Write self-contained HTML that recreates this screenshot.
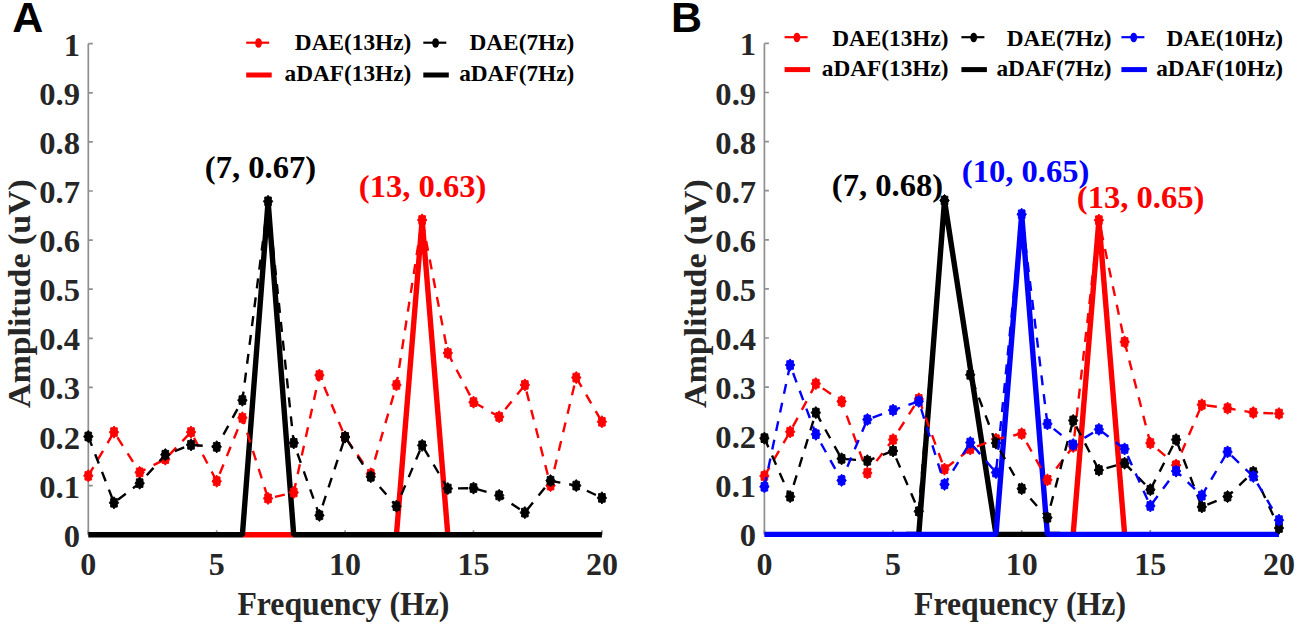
<!DOCTYPE html>
<html><head><meta charset="utf-8"><style>
html,body{margin:0;padding:0;background:#fff;width:1305px;height:629px;overflow:hidden}
svg{display:block}

</style></head><body><svg width="1305" height="629" viewBox="0 0 1305 629"><path d="M88.3 43.7V534.7" stroke="#8f8f8f" stroke-width="1.7" fill="none"/><path d="M88.3 534.7H601.9" stroke="#8f8f8f" stroke-width="1.7" fill="none"/><path d="M88.3 534.7H92.8M88.3 485.6H92.8M88.3 436.5H92.8M88.3 387.4H92.8M88.3 338.3H92.8M88.3 289.2H92.8M88.3 240.1H92.8M88.3 191.0H92.8M88.3 141.9H92.8M88.3 92.8H92.8M88.3 43.7H92.8M88.3 534.7V530.2M216.7 534.7V530.2M345.1 534.7V530.2M473.5 534.7V530.2M601.9 534.7V530.2" stroke="#8f8f8f" stroke-width="1.7" fill="none"/><text x="80.0" y="546.7" text-anchor="end" font-size="32.6" fill="#262626" font-family="Liberation Serif" font-weight="bold">0</text><text x="80.0" y="497.6" text-anchor="end" font-size="32.6" fill="#262626" font-family="Liberation Serif" font-weight="bold">0.1</text><text x="80.0" y="448.5" text-anchor="end" font-size="32.6" fill="#262626" font-family="Liberation Serif" font-weight="bold">0.2</text><text x="80.0" y="399.4" text-anchor="end" font-size="32.6" fill="#262626" font-family="Liberation Serif" font-weight="bold">0.3</text><text x="80.0" y="350.3" text-anchor="end" font-size="32.6" fill="#262626" font-family="Liberation Serif" font-weight="bold">0.4</text><text x="80.0" y="301.2" text-anchor="end" font-size="32.6" fill="#262626" font-family="Liberation Serif" font-weight="bold">0.5</text><text x="80.0" y="252.1" text-anchor="end" font-size="32.6" fill="#262626" font-family="Liberation Serif" font-weight="bold">0.6</text><text x="80.0" y="203.0" text-anchor="end" font-size="32.6" fill="#262626" font-family="Liberation Serif" font-weight="bold">0.7</text><text x="80.0" y="153.9" text-anchor="end" font-size="32.6" fill="#262626" font-family="Liberation Serif" font-weight="bold">0.8</text><text x="80.0" y="104.8" text-anchor="end" font-size="32.6" fill="#262626" font-family="Liberation Serif" font-weight="bold">0.9</text><text x="80.0" y="55.7" text-anchor="end" font-size="32.6" fill="#262626" font-family="Liberation Serif" font-weight="bold">1</text><text x="88.3" y="575.0" text-anchor="middle" font-size="32" fill="#262626" font-family="Liberation Serif" font-weight="bold">0</text><text x="216.7" y="575.0" text-anchor="middle" font-size="32" fill="#262626" font-family="Liberation Serif" font-weight="bold">5</text><text x="345.1" y="575.0" text-anchor="middle" font-size="32" fill="#262626" font-family="Liberation Serif" font-weight="bold">10</text><text x="473.5" y="575.0" text-anchor="middle" font-size="32" fill="#262626" font-family="Liberation Serif" font-weight="bold">15</text><text x="601.9" y="575.0" text-anchor="middle" font-size="32" fill="#262626" font-family="Liberation Serif" font-weight="bold">20</text><text x="343.4" y="614.8" text-anchor="middle" font-size="33" textLength="212" lengthAdjust="spacingAndGlyphs" fill="#262626" font-family="Liberation Serif" font-weight="bold">Frequency (Hz)</text><text transform="translate(29.8 293.6) rotate(-90)" text-anchor="middle" font-size="32.5" textLength="229" lengthAdjust="spacingAndGlyphs" fill="#262626" font-family="Liberation Serif" font-weight="bold">Amplitude (uV)</text><path d="M764.4 43.4V534.4" stroke="#8f8f8f" stroke-width="1.7" fill="none"/><path d="M764.4 534.4H1279.0" stroke="#8f8f8f" stroke-width="1.7" fill="none"/><path d="M764.4 534.4H768.9M764.4 485.3H768.9M764.4 436.2H768.9M764.4 387.1H768.9M764.4 338.0H768.9M764.4 288.9H768.9M764.4 239.8H768.9M764.4 190.7H768.9M764.4 141.6H768.9M764.4 92.5H768.9M764.4 43.4H768.9M764.4 534.4V529.9M893.0 534.4V529.9M1021.7 534.4V529.9M1150.3 534.4V529.9M1279.0 534.4V529.9" stroke="#8f8f8f" stroke-width="1.7" fill="none"/><text x="756.1" y="546.4" text-anchor="end" font-size="32.6" fill="#262626" font-family="Liberation Serif" font-weight="bold">0</text><text x="756.1" y="497.3" text-anchor="end" font-size="32.6" fill="#262626" font-family="Liberation Serif" font-weight="bold">0.1</text><text x="756.1" y="448.2" text-anchor="end" font-size="32.6" fill="#262626" font-family="Liberation Serif" font-weight="bold">0.2</text><text x="756.1" y="399.1" text-anchor="end" font-size="32.6" fill="#262626" font-family="Liberation Serif" font-weight="bold">0.3</text><text x="756.1" y="350.0" text-anchor="end" font-size="32.6" fill="#262626" font-family="Liberation Serif" font-weight="bold">0.4</text><text x="756.1" y="300.9" text-anchor="end" font-size="32.6" fill="#262626" font-family="Liberation Serif" font-weight="bold">0.5</text><text x="756.1" y="251.8" text-anchor="end" font-size="32.6" fill="#262626" font-family="Liberation Serif" font-weight="bold">0.6</text><text x="756.1" y="202.7" text-anchor="end" font-size="32.6" fill="#262626" font-family="Liberation Serif" font-weight="bold">0.7</text><text x="756.1" y="153.6" text-anchor="end" font-size="32.6" fill="#262626" font-family="Liberation Serif" font-weight="bold">0.8</text><text x="756.1" y="104.5" text-anchor="end" font-size="32.6" fill="#262626" font-family="Liberation Serif" font-weight="bold">0.9</text><text x="756.1" y="55.4" text-anchor="end" font-size="32.6" fill="#262626" font-family="Liberation Serif" font-weight="bold">1</text><text x="764.4" y="575.0" text-anchor="middle" font-size="32" fill="#262626" font-family="Liberation Serif" font-weight="bold">0</text><text x="893.0" y="575.0" text-anchor="middle" font-size="32" fill="#262626" font-family="Liberation Serif" font-weight="bold">5</text><text x="1021.7" y="575.0" text-anchor="middle" font-size="32" fill="#262626" font-family="Liberation Serif" font-weight="bold">10</text><text x="1150.3" y="575.0" text-anchor="middle" font-size="32" fill="#262626" font-family="Liberation Serif" font-weight="bold">15</text><text x="1279.0" y="575.0" text-anchor="middle" font-size="32" fill="#262626" font-family="Liberation Serif" font-weight="bold">20</text><text x="1020.0" y="614.8" text-anchor="middle" font-size="33" textLength="212" lengthAdjust="spacingAndGlyphs" fill="#262626" font-family="Liberation Serif" font-weight="bold">Frequency (Hz)</text><text transform="translate(705.9 293.6) rotate(-90)" text-anchor="middle" font-size="32.5" textLength="229" lengthAdjust="spacingAndGlyphs" fill="#262626" font-family="Liberation Serif" font-weight="bold">Amplitude (uV)</text><path d="M242.38 534.70 L293.74 534.70M396.46 534.70 L422.14 219.97 L447.82 534.70" fill="none" stroke="#ff0000" stroke-width="5.4" stroke-linejoin="miter" stroke-miterlimit="1"/><polyline points="88.3,534.7 242.4,534.7 268.1,201.3 293.7,534.7 601.9,534.7" fill="none" stroke="#000000" stroke-width="5.4" stroke-linejoin="miter" stroke-miterlimit="1"/><polyline points="88.3,475.8 114.0,432.1 139.7,472.3 165.3,459.1 191.0,432.1 216.7,481.2 242.4,417.8 268.1,498.4 293.7,492.5 319.4,375.1 345.1,437.0 370.8,473.8 396.5,384.9 422.1,220.0 447.8,353.0 473.5,402.1 499.2,416.9 524.9,384.9 550.5,485.6 576.2,377.6 601.9,421.8" fill="none" stroke="#ff0000" stroke-width="2.4" stroke-dasharray="10 9"/><g><polygon points="88.30,469.68 89.70,471.38 91.62,471.47 91.69,473.96 93.00,475.78 91.69,477.60 91.62,480.09 89.70,480.18 88.30,481.88 86.90,480.18 84.98,480.09 84.91,477.60 83.60,475.78 84.91,473.96 84.98,471.47 86.90,471.38" fill="#ff0000" stroke="#ff0000" stroke-width="0.9" stroke-linejoin="round"/><polygon points="113.98,425.98 115.38,427.69 117.30,427.77 117.37,430.26 118.68,432.08 117.37,433.90 117.30,436.39 115.38,436.48 113.98,438.18 112.58,436.48 110.66,436.39 110.59,433.90 109.28,432.08 110.59,430.26 110.66,427.77 112.58,427.69" fill="#ff0000" stroke="#ff0000" stroke-width="0.9" stroke-linejoin="round"/><polygon points="139.66,466.24 141.06,467.95 142.98,468.03 143.05,470.52 144.36,472.34 143.05,474.16 142.98,476.66 141.06,476.74 139.66,478.44 138.26,476.74 136.34,476.66 136.27,474.16 134.96,472.34 136.27,470.52 136.34,468.03 138.26,467.95" fill="#ff0000" stroke="#ff0000" stroke-width="0.9" stroke-linejoin="round"/><polygon points="165.34,452.99 166.74,454.69 168.66,454.77 168.73,457.27 170.04,459.09 168.73,460.91 168.66,463.40 166.74,463.48 165.34,465.19 163.94,463.48 162.02,463.40 161.95,460.91 160.64,459.09 161.95,457.27 162.02,454.77 163.94,454.69" fill="#ff0000" stroke="#ff0000" stroke-width="0.9" stroke-linejoin="round"/><polygon points="191.02,425.98 192.42,427.69 194.34,427.77 194.41,430.26 195.72,432.08 194.41,433.90 194.34,436.39 192.42,436.48 191.02,438.18 189.62,436.48 187.70,436.39 187.63,433.90 186.32,432.08 187.63,430.26 187.70,427.77 189.62,427.69" fill="#ff0000" stroke="#ff0000" stroke-width="0.9" stroke-linejoin="round"/><polygon points="216.70,475.08 218.10,476.79 220.02,476.87 220.09,479.36 221.40,481.18 220.09,483.00 220.02,485.49 218.10,485.58 216.70,487.28 215.30,485.58 213.38,485.49 213.31,483.00 212.00,481.18 213.31,479.36 213.38,476.87 215.30,476.79" fill="#ff0000" stroke="#ff0000" stroke-width="0.9" stroke-linejoin="round"/><polygon points="242.38,411.74 243.78,413.45 245.70,413.53 245.77,416.02 247.08,417.84 245.77,419.66 245.70,422.16 243.78,422.24 242.38,423.94 240.98,422.24 239.06,422.16 238.99,419.66 237.68,417.84 238.99,416.02 239.06,413.53 240.98,413.45" fill="#ff0000" stroke="#ff0000" stroke-width="0.9" stroke-linejoin="round"/><polygon points="268.06,492.27 269.46,493.97 271.38,494.05 271.45,496.55 272.76,498.37 271.45,500.19 271.38,502.68 269.46,502.76 268.06,504.47 266.66,502.76 264.74,502.68 264.67,500.19 263.36,498.37 264.67,496.55 264.74,494.05 266.66,493.97" fill="#ff0000" stroke="#ff0000" stroke-width="0.9" stroke-linejoin="round"/><polygon points="293.74,486.37 295.14,488.08 297.06,488.16 297.13,490.65 298.44,492.47 297.13,494.29 297.06,496.79 295.14,496.87 293.74,498.57 292.34,496.87 290.42,496.79 290.35,494.29 289.04,492.47 290.35,490.65 290.42,488.16 292.34,488.08" fill="#ff0000" stroke="#ff0000" stroke-width="0.9" stroke-linejoin="round"/><polygon points="319.42,369.02 320.82,370.73 322.74,370.81 322.81,373.30 324.12,375.12 322.81,376.95 322.74,379.44 320.82,379.52 319.42,381.23 318.02,379.52 316.10,379.44 316.03,376.95 314.72,375.12 316.03,373.30 316.10,370.81 318.02,370.73" fill="#ff0000" stroke="#ff0000" stroke-width="0.9" stroke-linejoin="round"/><polygon points="345.10,430.89 346.50,432.60 348.42,432.68 348.49,435.17 349.80,436.99 348.49,438.81 348.42,441.30 346.50,441.39 345.10,443.09 343.70,441.39 341.78,441.30 341.71,438.81 340.40,436.99 341.71,435.17 341.78,432.68 343.70,432.60" fill="#ff0000" stroke="#ff0000" stroke-width="0.9" stroke-linejoin="round"/><polygon points="370.78,467.72 372.18,469.42 374.10,469.50 374.17,472.00 375.48,473.82 374.17,475.64 374.10,478.13 372.18,478.21 370.78,479.92 369.38,478.21 367.46,478.13 367.39,475.64 366.08,473.82 367.39,472.00 367.46,469.50 369.38,469.42" fill="#ff0000" stroke="#ff0000" stroke-width="0.9" stroke-linejoin="round"/><polygon points="396.46,378.85 397.86,380.55 399.78,380.63 399.85,383.12 401.16,384.95 399.85,386.77 399.78,389.26 397.86,389.34 396.46,391.05 395.06,389.34 393.14,389.26 393.07,386.77 391.76,384.95 393.07,383.12 393.14,380.63 395.06,380.55" fill="#ff0000" stroke="#ff0000" stroke-width="0.9" stroke-linejoin="round"/><polygon points="422.14,213.87 423.54,215.57 425.46,215.66 425.53,218.15 426.84,219.97 425.53,221.79 425.46,224.28 423.54,224.36 422.14,226.07 420.74,224.36 418.82,224.28 418.75,221.79 417.44,219.97 418.75,218.15 418.82,215.66 420.74,215.57" fill="#ff0000" stroke="#ff0000" stroke-width="0.9" stroke-linejoin="round"/><polygon points="447.82,346.93 449.22,348.63 451.14,348.72 451.21,351.21 452.52,353.03 451.21,354.85 451.14,357.34 449.22,357.43 447.82,359.13 446.42,357.43 444.50,357.34 444.43,354.85 443.12,353.03 444.43,351.21 444.50,348.72 446.42,348.63" fill="#ff0000" stroke="#ff0000" stroke-width="0.9" stroke-linejoin="round"/><polygon points="473.50,396.03 474.90,397.73 476.82,397.82 476.89,400.31 478.20,402.13 476.89,403.95 476.82,406.44 474.90,406.53 473.50,408.23 472.10,406.53 470.18,406.44 470.11,403.95 468.80,402.13 470.11,400.31 470.18,397.82 472.10,397.73" fill="#ff0000" stroke="#ff0000" stroke-width="0.9" stroke-linejoin="round"/><polygon points="499.18,410.76 500.58,412.46 502.50,412.55 502.57,415.04 503.88,416.86 502.57,418.68 502.50,421.17 500.58,421.26 499.18,422.96 497.78,421.26 495.86,421.17 495.79,418.68 494.48,416.86 495.79,415.04 495.86,412.55 497.78,412.46" fill="#ff0000" stroke="#ff0000" stroke-width="0.9" stroke-linejoin="round"/><polygon points="524.86,378.85 526.26,380.55 528.18,380.63 528.25,383.12 529.56,384.95 528.25,386.77 528.18,389.26 526.26,389.34 524.86,391.05 523.46,389.34 521.54,389.26 521.47,386.77 520.16,384.95 521.47,383.12 521.54,380.63 523.46,380.55" fill="#ff0000" stroke="#ff0000" stroke-width="0.9" stroke-linejoin="round"/><polygon points="550.54,479.50 551.94,481.20 553.86,481.29 553.93,483.78 555.24,485.60 553.93,487.42 553.86,489.91 551.94,490.00 550.54,491.70 549.14,490.00 547.22,489.91 547.15,487.42 545.84,485.60 547.15,483.78 547.22,481.29 549.14,481.20" fill="#ff0000" stroke="#ff0000" stroke-width="0.9" stroke-linejoin="round"/><polygon points="576.22,371.48 577.62,373.18 579.54,373.27 579.61,375.76 580.92,377.58 579.61,379.40 579.54,381.89 577.62,381.98 576.22,383.68 574.82,381.98 572.90,381.89 572.83,379.40 571.52,377.58 572.83,375.76 572.90,373.27 574.82,373.18" fill="#ff0000" stroke="#ff0000" stroke-width="0.9" stroke-linejoin="round"/><polygon points="601.90,415.67 603.30,417.37 605.22,417.46 605.29,419.95 606.60,421.77 605.29,423.59 605.22,426.08 603.30,426.17 601.90,427.87 600.50,426.17 598.58,426.08 598.51,423.59 597.20,421.77 598.51,419.95 598.58,417.46 600.50,417.37" fill="#ff0000" stroke="#ff0000" stroke-width="0.9" stroke-linejoin="round"/></g><polyline points="88.3,436.5 114.0,502.8 139.7,483.1 165.3,454.7 191.0,444.8 216.7,446.8 242.4,400.2 268.1,201.3 293.7,442.9 319.4,515.3 345.1,437.0 370.8,476.8 396.5,506.2 422.1,445.3 447.8,488.5 473.5,488.1 499.2,495.4 524.9,512.6 550.5,480.7 576.2,485.6 601.9,497.9" fill="none" stroke="#000000" stroke-width="2.4" stroke-dasharray="10 9"/><g><polygon points="88.30,430.40 89.70,432.10 91.62,432.19 91.69,434.68 93.00,436.50 91.69,438.32 91.62,440.81 89.70,440.90 88.30,442.60 86.90,440.90 84.98,440.81 84.91,438.32 83.60,436.50 84.91,434.68 84.98,432.19 86.90,432.10" fill="#000000" stroke="#000000" stroke-width="0.9" stroke-linejoin="round"/><polygon points="113.98,496.69 115.38,498.39 117.30,498.47 117.37,500.96 118.68,502.79 117.37,504.61 117.30,507.10 115.38,507.18 113.98,508.89 112.58,507.18 110.66,507.10 110.59,504.61 109.28,502.79 110.59,500.96 110.66,498.47 112.58,498.39" fill="#000000" stroke="#000000" stroke-width="0.9" stroke-linejoin="round"/><polygon points="139.66,477.05 141.06,478.75 142.98,478.83 143.05,481.32 144.36,483.15 143.05,484.97 142.98,487.46 141.06,487.54 139.66,489.25 138.26,487.54 136.34,487.46 136.27,484.97 134.96,483.15 136.27,481.32 136.34,478.83 138.26,478.75" fill="#000000" stroke="#000000" stroke-width="0.9" stroke-linejoin="round"/><polygon points="165.34,448.57 166.74,450.27 168.66,450.35 168.73,452.85 170.04,454.67 168.73,456.49 168.66,458.98 166.74,459.06 165.34,460.77 163.94,459.06 162.02,458.98 161.95,456.49 160.64,454.67 161.95,452.85 162.02,450.35 163.94,450.27" fill="#000000" stroke="#000000" stroke-width="0.9" stroke-linejoin="round"/><polygon points="191.02,438.75 192.42,440.45 194.34,440.53 194.41,443.03 195.72,444.85 194.41,446.67 194.34,449.16 192.42,449.24 191.02,450.95 189.62,449.24 187.70,449.16 187.63,446.67 186.32,444.85 187.63,443.03 187.70,440.53 189.62,440.45" fill="#000000" stroke="#000000" stroke-width="0.9" stroke-linejoin="round"/><polygon points="216.70,440.71 218.10,442.42 220.02,442.50 220.09,444.99 221.40,446.81 220.09,448.63 220.02,451.12 218.10,451.21 216.70,452.91 215.30,451.21 213.38,451.12 213.31,448.63 212.00,446.81 213.31,444.99 213.38,442.50 215.30,442.42" fill="#000000" stroke="#000000" stroke-width="0.9" stroke-linejoin="round"/><polygon points="242.38,394.07 243.78,395.77 245.70,395.85 245.77,398.35 247.08,400.17 245.77,401.99 245.70,404.48 243.78,404.56 242.38,406.27 240.98,404.56 239.06,404.48 238.99,401.99 237.68,400.17 238.99,398.35 239.06,395.85 240.98,395.77" fill="#000000" stroke="#000000" stroke-width="0.9" stroke-linejoin="round"/><polygon points="268.06,195.21 269.46,196.92 271.38,197.00 271.45,199.49 272.76,201.31 271.45,203.13 271.38,205.62 269.46,205.71 268.06,207.41 266.66,205.71 264.74,205.62 264.67,203.13 263.36,201.31 264.67,199.49 264.74,197.00 266.66,196.92" fill="#000000" stroke="#000000" stroke-width="0.9" stroke-linejoin="round"/><polygon points="293.74,436.78 295.14,438.49 297.06,438.57 297.13,441.06 298.44,442.88 297.13,444.70 297.06,447.20 295.14,447.28 293.74,448.98 292.34,447.28 290.42,447.20 290.35,444.70 289.04,442.88 290.35,441.06 290.42,438.57 292.34,438.49" fill="#000000" stroke="#000000" stroke-width="0.9" stroke-linejoin="round"/><polygon points="319.42,509.21 320.82,510.91 322.74,510.99 322.81,513.48 324.12,515.31 322.81,517.13 322.74,519.62 320.82,519.70 319.42,521.41 318.02,519.70 316.10,519.62 316.03,517.13 314.72,515.31 316.03,513.48 316.10,510.99 318.02,510.91" fill="#000000" stroke="#000000" stroke-width="0.9" stroke-linejoin="round"/><polygon points="345.10,430.89 346.50,432.60 348.42,432.68 348.49,435.17 349.80,436.99 348.49,438.81 348.42,441.30 346.50,441.39 345.10,443.09 343.70,441.39 341.78,441.30 341.71,438.81 340.40,436.99 341.71,435.17 341.78,432.68 343.70,432.60" fill="#000000" stroke="#000000" stroke-width="0.9" stroke-linejoin="round"/><polygon points="370.78,470.66 372.18,472.37 374.10,472.45 374.17,474.94 375.48,476.76 374.17,478.58 374.10,481.08 372.18,481.16 370.78,482.86 369.38,481.16 367.46,481.08 367.39,478.58 366.08,476.76 367.39,474.94 367.46,472.45 369.38,472.37" fill="#000000" stroke="#000000" stroke-width="0.9" stroke-linejoin="round"/><polygon points="396.46,500.12 397.86,501.83 399.78,501.91 399.85,504.40 401.16,506.22 399.85,508.04 399.78,510.54 397.86,510.62 396.46,512.32 395.06,510.62 393.14,510.54 393.07,508.04 391.76,506.22 393.07,504.40 393.14,501.91 395.06,501.83" fill="#000000" stroke="#000000" stroke-width="0.9" stroke-linejoin="round"/><polygon points="422.14,439.24 423.54,440.94 425.46,441.02 425.53,443.52 426.84,445.34 425.53,447.16 425.46,449.65 423.54,449.73 422.14,451.44 420.74,449.73 418.82,449.65 418.75,447.16 417.44,445.34 418.75,443.52 418.82,441.02 420.74,440.94" fill="#000000" stroke="#000000" stroke-width="0.9" stroke-linejoin="round"/><polygon points="447.82,482.45 449.22,484.15 451.14,484.23 451.21,486.73 452.52,488.55 451.21,490.37 451.14,492.86 449.22,492.94 447.82,494.65 446.42,492.94 444.50,492.86 444.43,490.37 443.12,488.55 444.43,486.73 444.50,484.23 446.42,484.15" fill="#000000" stroke="#000000" stroke-width="0.9" stroke-linejoin="round"/><polygon points="473.50,481.96 474.90,483.66 476.82,483.74 476.89,486.23 478.20,488.06 476.89,489.88 476.82,492.37 474.90,492.45 473.50,494.16 472.10,492.45 470.18,492.37 470.11,489.88 468.80,488.06 470.11,486.23 470.18,483.74 472.10,483.66" fill="#000000" stroke="#000000" stroke-width="0.9" stroke-linejoin="round"/><polygon points="499.18,489.32 500.58,491.02 502.50,491.11 502.57,493.60 503.88,495.42 502.57,497.24 502.50,499.73 500.58,499.82 499.18,501.52 497.78,499.82 495.86,499.73 495.79,497.24 494.48,495.42 495.79,493.60 495.86,491.11 497.78,491.02" fill="#000000" stroke="#000000" stroke-width="0.9" stroke-linejoin="round"/><polygon points="524.86,506.50 526.26,508.21 528.18,508.29 528.25,510.78 529.56,512.61 528.25,514.43 528.18,516.92 526.26,517.00 524.86,518.71 523.46,517.00 521.54,516.92 521.47,514.43 520.16,512.61 521.47,510.78 521.54,508.29 523.46,508.21" fill="#000000" stroke="#000000" stroke-width="0.9" stroke-linejoin="round"/><polygon points="550.54,474.59 551.94,476.29 553.86,476.38 553.93,478.87 555.24,480.69 553.93,482.51 553.86,485.00 551.94,485.09 550.54,486.79 549.14,485.09 547.22,485.00 547.15,482.51 545.84,480.69 547.15,478.87 547.22,476.38 549.14,476.29" fill="#000000" stroke="#000000" stroke-width="0.9" stroke-linejoin="round"/><polygon points="576.22,479.50 577.62,481.20 579.54,481.29 579.61,483.78 580.92,485.60 579.61,487.42 579.54,489.91 577.62,490.00 576.22,491.70 574.82,490.00 572.90,489.91 572.83,487.42 571.52,485.60 572.83,483.78 572.90,481.29 574.82,481.20" fill="#000000" stroke="#000000" stroke-width="0.9" stroke-linejoin="round"/><polygon points="601.90,491.78 603.30,493.48 605.22,493.56 605.29,496.05 606.60,497.88 605.29,499.70 605.22,502.19 603.30,502.27 601.90,503.98 600.50,502.27 598.58,502.19 598.51,499.70 597.20,497.88 598.51,496.05 598.58,493.56 600.50,493.48" fill="#000000" stroke="#000000" stroke-width="0.9" stroke-linejoin="round"/></g><path d="M1073.16 534.40 L1098.89 220.16 L1124.62 534.40" fill="none" stroke="#ff0000" stroke-width="5.4" stroke-linejoin="miter" stroke-miterlimit="1"/><path d="M905.91 534.40 L918.78 534.40 L944.51 200.52 L995.97 534.40 L1060.30 534.40" fill="none" stroke="#000000" stroke-width="5.4" stroke-linejoin="miter" stroke-miterlimit="1"/><polyline points="764.4,534.4 996.0,534.4 1021.7,214.3 1047.4,534.4 1279.0,534.4" fill="none" stroke="#0000ff" stroke-width="5.4" stroke-linejoin="miter" stroke-miterlimit="1"/><polyline points="764.4,476.0 790.1,431.8 815.9,383.7 841.6,401.3 867.3,473.0 893.0,439.6 918.8,398.9 944.5,469.1 970.2,449.0 996.0,439.1 1021.7,433.7 1047.4,479.9 1073.2,446.5 1098.9,220.2 1124.6,341.9 1150.3,443.1 1176.1,465.2 1201.8,404.8 1227.5,408.2 1253.3,412.6 1279.0,413.6" fill="none" stroke="#ff0000" stroke-width="2.4" stroke-dasharray="10 9"/><g><polygon points="764.40,469.87 765.80,471.58 767.72,471.66 767.79,474.15 769.10,475.97 767.79,477.79 767.72,480.28 765.80,480.37 764.40,482.07 763.00,480.37 761.08,480.28 761.01,477.79 759.70,475.97 761.01,474.15 761.08,471.66 763.00,471.58" fill="#ff0000" stroke="#ff0000" stroke-width="0.9" stroke-linejoin="round"/><polygon points="790.13,425.68 791.53,427.39 793.45,427.47 793.52,429.96 794.83,431.78 793.52,433.60 793.45,436.09 791.53,436.18 790.13,437.88 788.73,436.18 786.81,436.09 786.74,433.60 785.43,431.78 786.74,429.96 786.81,427.47 788.73,427.39" fill="#ff0000" stroke="#ff0000" stroke-width="0.9" stroke-linejoin="round"/><polygon points="815.86,377.56 817.26,379.27 819.18,379.35 819.25,381.84 820.56,383.66 819.25,385.48 819.18,387.98 817.26,388.06 815.86,389.76 814.46,388.06 812.54,387.98 812.47,385.48 811.16,383.66 812.47,381.84 812.54,379.35 814.46,379.27" fill="#ff0000" stroke="#ff0000" stroke-width="0.9" stroke-linejoin="round"/><polygon points="841.59,395.24 842.99,396.94 844.91,397.03 844.98,399.52 846.29,401.34 844.98,403.16 844.91,405.65 842.99,405.73 841.59,407.44 840.19,405.73 838.27,405.65 838.20,403.16 836.89,401.34 838.20,399.52 838.27,397.03 840.19,396.94" fill="#ff0000" stroke="#ff0000" stroke-width="0.9" stroke-linejoin="round"/><polygon points="867.32,466.92 868.72,468.63 870.64,468.71 870.71,471.20 872.02,473.02 870.71,474.85 870.64,477.34 868.72,477.42 867.32,479.12 865.92,477.42 864.00,477.34 863.93,474.85 862.62,473.02 863.93,471.20 864.00,468.71 865.92,468.63" fill="#ff0000" stroke="#ff0000" stroke-width="0.9" stroke-linejoin="round"/><polygon points="893.05,433.54 894.45,435.24 896.37,435.32 896.44,437.82 897.75,439.64 896.44,441.46 896.37,443.95 894.45,444.03 893.05,445.74 891.65,444.03 889.73,443.95 889.66,441.46 888.35,439.64 889.66,437.82 889.73,435.32 891.65,435.24" fill="#ff0000" stroke="#ff0000" stroke-width="0.9" stroke-linejoin="round"/><polygon points="918.78,392.78 920.18,394.49 922.10,394.57 922.17,397.06 923.48,398.88 922.17,400.70 922.10,403.20 920.18,403.28 918.78,404.98 917.38,403.28 915.46,403.20 915.39,400.70 914.08,398.88 915.39,397.06 915.46,394.57 917.38,394.49" fill="#ff0000" stroke="#ff0000" stroke-width="0.9" stroke-linejoin="round"/><polygon points="944.51,463.00 945.91,464.70 947.83,464.78 947.90,467.28 949.21,469.10 947.90,470.92 947.83,473.41 945.91,473.49 944.51,475.20 943.11,473.49 941.19,473.41 941.12,470.92 939.81,469.10 941.12,467.28 941.19,464.78 943.11,464.70" fill="#ff0000" stroke="#ff0000" stroke-width="0.9" stroke-linejoin="round"/><polygon points="970.24,442.87 971.64,444.57 973.56,444.65 973.63,447.15 974.94,448.97 973.63,450.79 973.56,453.28 971.64,453.36 970.24,455.07 968.84,453.36 966.92,453.28 966.85,450.79 965.54,448.97 966.85,447.15 966.92,444.65 968.84,444.57" fill="#ff0000" stroke="#ff0000" stroke-width="0.9" stroke-linejoin="round"/><polygon points="995.97,433.05 997.37,434.75 999.29,434.83 999.36,437.33 1000.67,439.15 999.36,440.97 999.29,443.46 997.37,443.54 995.97,445.25 994.57,443.54 992.65,443.46 992.58,440.97 991.27,439.15 992.58,437.33 992.65,434.83 994.57,434.75" fill="#ff0000" stroke="#ff0000" stroke-width="0.9" stroke-linejoin="round"/><polygon points="1021.70,427.64 1023.10,429.35 1025.02,429.43 1025.09,431.92 1026.40,433.75 1025.09,435.57 1025.02,438.06 1023.10,438.14 1021.70,439.85 1020.30,438.14 1018.38,438.06 1018.31,435.57 1017.00,433.75 1018.31,431.92 1018.38,429.43 1020.30,429.35" fill="#ff0000" stroke="#ff0000" stroke-width="0.9" stroke-linejoin="round"/><polygon points="1047.43,473.80 1048.83,475.50 1050.75,475.59 1050.82,478.08 1052.13,479.90 1050.82,481.72 1050.75,484.21 1048.83,484.29 1047.43,486.00 1046.03,484.29 1044.11,484.21 1044.04,481.72 1042.73,479.90 1044.04,478.08 1044.11,475.59 1046.03,475.50" fill="#ff0000" stroke="#ff0000" stroke-width="0.9" stroke-linejoin="round"/><polygon points="1073.16,440.41 1074.56,442.12 1076.48,442.20 1076.55,444.69 1077.86,446.51 1076.55,448.33 1076.48,450.82 1074.56,450.91 1073.16,452.61 1071.76,450.91 1069.84,450.82 1069.77,448.33 1068.46,446.51 1069.77,444.69 1069.84,442.20 1071.76,442.12" fill="#ff0000" stroke="#ff0000" stroke-width="0.9" stroke-linejoin="round"/><polygon points="1098.89,214.06 1100.29,215.76 1102.21,215.85 1102.28,218.34 1103.59,220.16 1102.28,221.98 1102.21,224.47 1100.29,224.56 1098.89,226.26 1097.49,224.56 1095.57,224.47 1095.50,221.98 1094.19,220.16 1095.50,218.34 1095.57,215.85 1097.49,215.76" fill="#ff0000" stroke="#ff0000" stroke-width="0.9" stroke-linejoin="round"/><polygon points="1124.62,335.83 1126.02,337.53 1127.94,337.61 1128.01,340.11 1129.32,341.93 1128.01,343.75 1127.94,346.24 1126.02,346.32 1124.62,348.03 1123.22,346.32 1121.30,346.24 1121.23,343.75 1119.92,341.93 1121.23,340.11 1121.30,337.61 1123.22,337.53" fill="#ff0000" stroke="#ff0000" stroke-width="0.9" stroke-linejoin="round"/><polygon points="1150.35,436.97 1151.75,438.68 1153.67,438.76 1153.74,441.25 1155.05,443.07 1153.74,444.89 1153.67,447.39 1151.75,447.47 1150.35,449.17 1148.95,447.47 1147.03,447.39 1146.96,444.89 1145.65,443.07 1146.96,441.25 1147.03,438.76 1148.95,438.68" fill="#ff0000" stroke="#ff0000" stroke-width="0.9" stroke-linejoin="round"/><polygon points="1176.08,459.07 1177.48,460.77 1179.40,460.86 1179.47,463.35 1180.78,465.17 1179.47,466.99 1179.40,469.48 1177.48,469.56 1176.08,471.27 1174.68,469.56 1172.76,469.48 1172.69,466.99 1171.38,465.17 1172.69,463.35 1172.76,460.86 1174.68,460.77" fill="#ff0000" stroke="#ff0000" stroke-width="0.9" stroke-linejoin="round"/><polygon points="1201.81,398.68 1203.21,400.38 1205.13,400.46 1205.20,402.96 1206.51,404.78 1205.20,406.60 1205.13,409.09 1203.21,409.17 1201.81,410.88 1200.41,409.17 1198.49,409.09 1198.42,406.60 1197.11,404.78 1198.42,402.96 1198.49,400.46 1200.41,400.38" fill="#ff0000" stroke="#ff0000" stroke-width="0.9" stroke-linejoin="round"/><polygon points="1227.54,402.11 1228.94,403.82 1230.86,403.90 1230.93,406.39 1232.24,408.21 1230.93,410.03 1230.86,412.53 1228.94,412.61 1227.54,414.31 1226.14,412.61 1224.22,412.53 1224.15,410.03 1222.84,408.21 1224.15,406.39 1224.22,403.90 1226.14,403.82" fill="#ff0000" stroke="#ff0000" stroke-width="0.9" stroke-linejoin="round"/><polygon points="1253.27,406.53 1254.67,408.24 1256.59,408.32 1256.66,410.81 1257.97,412.63 1256.66,414.45 1256.59,416.95 1254.67,417.03 1253.27,418.73 1251.87,417.03 1249.95,416.95 1249.88,414.45 1248.57,412.63 1249.88,410.81 1249.95,408.32 1251.87,408.24" fill="#ff0000" stroke="#ff0000" stroke-width="0.9" stroke-linejoin="round"/><polygon points="1279.00,407.51 1280.40,409.22 1282.32,409.30 1282.39,411.79 1283.70,413.61 1282.39,415.43 1282.32,417.93 1280.40,418.01 1279.00,419.71 1277.60,418.01 1275.68,417.93 1275.61,415.43 1274.30,413.61 1275.61,411.79 1275.68,409.30 1277.60,409.22" fill="#ff0000" stroke="#ff0000" stroke-width="0.9" stroke-linejoin="round"/></g><polyline points="764.4,438.2 790.1,496.6 815.9,412.6 841.6,458.8 867.3,460.8 893.0,450.9 918.8,511.3 944.5,200.5 970.2,374.8 996.0,443.1 1021.7,488.7 1047.4,517.7 1073.2,420.5 1098.9,470.1 1124.6,463.2 1150.3,489.7 1176.1,439.6 1201.8,506.9 1227.5,496.6 1253.3,472.0 1279.0,528.0" fill="none" stroke="#000000" stroke-width="2.4" stroke-dasharray="10 9"/><g><polygon points="764.40,432.06 765.80,433.77 767.72,433.85 767.79,436.34 769.10,438.16 767.79,439.98 767.72,442.48 765.80,442.56 764.40,444.26 763.00,442.56 761.08,442.48 761.01,439.98 759.70,438.16 761.01,436.34 761.08,433.85 763.00,433.77" fill="#000000" stroke="#000000" stroke-width="0.9" stroke-linejoin="round"/><polygon points="790.13,490.49 791.53,492.20 793.45,492.28 793.52,494.77 794.83,496.59 793.52,498.41 793.45,500.91 791.53,500.99 790.13,502.69 788.73,500.99 786.81,500.91 786.74,498.41 785.43,496.59 786.74,494.77 786.81,492.28 788.73,492.20" fill="#000000" stroke="#000000" stroke-width="0.9" stroke-linejoin="round"/><polygon points="815.86,406.53 817.26,408.24 819.18,408.32 819.25,410.81 820.56,412.63 819.25,414.45 819.18,416.95 817.26,417.03 815.86,418.73 814.46,417.03 812.54,416.95 812.47,414.45 811.16,412.63 812.47,410.81 812.54,408.32 814.46,408.24" fill="#000000" stroke="#000000" stroke-width="0.9" stroke-linejoin="round"/><polygon points="841.59,452.69 842.99,454.39 844.91,454.47 844.98,456.97 846.29,458.79 844.98,460.61 844.91,463.10 842.99,463.18 841.59,464.89 840.19,463.18 838.27,463.10 838.20,460.61 836.89,458.79 838.20,456.97 838.27,454.47 840.19,454.39" fill="#000000" stroke="#000000" stroke-width="0.9" stroke-linejoin="round"/><polygon points="867.32,454.65 868.72,456.35 870.64,456.44 870.71,458.93 872.02,460.75 870.71,462.57 870.64,465.06 868.72,465.15 867.32,466.85 865.92,465.15 864.00,465.06 863.93,462.57 862.62,460.75 863.93,458.93 864.00,456.44 865.92,456.35" fill="#000000" stroke="#000000" stroke-width="0.9" stroke-linejoin="round"/><polygon points="893.05,444.83 894.45,446.53 896.37,446.62 896.44,449.11 897.75,450.93 896.44,452.75 896.37,455.24 894.45,455.33 893.05,457.03 891.65,455.33 889.73,455.24 889.66,452.75 888.35,450.93 889.66,449.11 889.73,446.62 891.65,446.53" fill="#000000" stroke="#000000" stroke-width="0.9" stroke-linejoin="round"/><polygon points="918.78,505.22 920.18,506.93 922.10,507.01 922.17,509.50 923.48,511.32 922.17,513.14 922.10,515.64 920.18,515.72 918.78,517.42 917.38,515.72 915.46,515.64 915.39,513.14 914.08,511.32 915.39,509.50 915.46,507.01 917.38,506.93" fill="#000000" stroke="#000000" stroke-width="0.9" stroke-linejoin="round"/><polygon points="944.51,194.42 945.91,196.12 947.83,196.21 947.90,198.70 949.21,200.52 947.90,202.34 947.83,204.83 945.91,204.92 944.51,206.62 943.11,204.92 941.19,204.83 941.12,202.34 939.81,200.52 941.12,198.70 941.19,196.21 943.11,196.12" fill="#000000" stroke="#000000" stroke-width="0.9" stroke-linejoin="round"/><polygon points="970.24,368.72 971.64,370.43 973.56,370.51 973.63,373.00 974.94,374.82 973.63,376.65 973.56,379.14 971.64,379.22 970.24,380.92 968.84,379.22 966.92,379.14 966.85,376.65 965.54,374.82 966.85,373.00 966.92,370.51 968.84,370.43" fill="#000000" stroke="#000000" stroke-width="0.9" stroke-linejoin="round"/><polygon points="995.97,436.97 997.37,438.68 999.29,438.76 999.36,441.25 1000.67,443.07 999.36,444.89 999.29,447.39 997.37,447.47 995.97,449.17 994.57,447.47 992.65,447.39 992.58,444.89 991.27,443.07 992.58,441.25 992.65,438.76 994.57,438.68" fill="#000000" stroke="#000000" stroke-width="0.9" stroke-linejoin="round"/><polygon points="1021.70,482.64 1023.10,484.34 1025.02,484.42 1025.09,486.92 1026.40,488.74 1025.09,490.56 1025.02,493.05 1023.10,493.13 1021.70,494.84 1020.30,493.13 1018.38,493.05 1018.31,490.56 1017.00,488.74 1018.31,486.92 1018.38,484.42 1020.30,484.34" fill="#000000" stroke="#000000" stroke-width="0.9" stroke-linejoin="round"/><polygon points="1047.43,511.61 1048.83,513.31 1050.75,513.39 1050.82,515.89 1052.13,517.71 1050.82,519.53 1050.75,522.02 1048.83,522.10 1047.43,523.81 1046.03,522.10 1044.11,522.02 1044.04,519.53 1042.73,517.71 1044.04,515.89 1044.11,513.39 1046.03,513.31" fill="#000000" stroke="#000000" stroke-width="0.9" stroke-linejoin="round"/><polygon points="1073.16,414.39 1074.56,416.09 1076.48,416.17 1076.55,418.67 1077.86,420.49 1076.55,422.31 1076.48,424.80 1074.56,424.88 1073.16,426.59 1071.76,424.88 1069.84,424.80 1069.77,422.31 1068.46,420.49 1069.77,418.67 1069.84,416.17 1071.76,416.09" fill="#000000" stroke="#000000" stroke-width="0.9" stroke-linejoin="round"/><polygon points="1098.89,463.98 1100.29,465.68 1102.21,465.77 1102.28,468.26 1103.59,470.08 1102.28,471.90 1102.21,474.39 1100.29,474.47 1098.89,476.18 1097.49,474.47 1095.57,474.39 1095.50,471.90 1094.19,470.08 1095.50,468.26 1095.57,465.77 1097.49,465.68" fill="#000000" stroke="#000000" stroke-width="0.9" stroke-linejoin="round"/><polygon points="1124.62,457.10 1126.02,458.81 1127.94,458.89 1128.01,461.38 1129.32,463.20 1128.01,465.03 1127.94,467.52 1126.02,467.60 1124.62,469.31 1123.22,467.60 1121.30,467.52 1121.23,465.03 1119.92,463.20 1121.23,461.38 1121.30,458.89 1123.22,458.81" fill="#000000" stroke="#000000" stroke-width="0.9" stroke-linejoin="round"/><polygon points="1150.35,483.62 1151.75,485.32 1153.67,485.41 1153.74,487.90 1155.05,489.72 1153.74,491.54 1153.67,494.03 1151.75,494.11 1150.35,495.82 1148.95,494.11 1147.03,494.03 1146.96,491.54 1145.65,489.72 1146.96,487.90 1147.03,485.41 1148.95,485.32" fill="#000000" stroke="#000000" stroke-width="0.9" stroke-linejoin="round"/><polygon points="1176.08,433.54 1177.48,435.24 1179.40,435.32 1179.47,437.82 1180.78,439.64 1179.47,441.46 1179.40,443.95 1177.48,444.03 1176.08,445.74 1174.68,444.03 1172.76,443.95 1172.69,441.46 1171.38,439.64 1172.69,437.82 1172.76,435.32 1174.68,435.24" fill="#000000" stroke="#000000" stroke-width="0.9" stroke-linejoin="round"/><polygon points="1201.81,500.80 1203.21,502.51 1205.13,502.59 1205.20,505.08 1206.51,506.90 1205.20,508.72 1205.13,511.22 1203.21,511.30 1201.81,513.00 1200.41,511.30 1198.49,511.22 1198.42,508.72 1197.11,506.90 1198.42,505.08 1198.49,502.59 1200.41,502.51" fill="#000000" stroke="#000000" stroke-width="0.9" stroke-linejoin="round"/><polygon points="1227.54,490.49 1228.94,492.20 1230.86,492.28 1230.93,494.77 1232.24,496.59 1230.93,498.41 1230.86,500.91 1228.94,500.99 1227.54,502.69 1226.14,500.99 1224.22,500.91 1224.15,498.41 1222.84,496.59 1224.15,494.77 1224.22,492.28 1226.14,492.20" fill="#000000" stroke="#000000" stroke-width="0.9" stroke-linejoin="round"/><polygon points="1253.27,465.94 1254.67,467.65 1256.59,467.73 1256.66,470.22 1257.97,472.04 1256.66,473.86 1256.59,476.36 1254.67,476.44 1253.27,478.14 1251.87,476.44 1249.95,476.36 1249.88,473.86 1248.57,472.04 1249.88,470.22 1249.95,467.73 1251.87,467.65" fill="#000000" stroke="#000000" stroke-width="0.9" stroke-linejoin="round"/><polygon points="1279.00,521.92 1280.40,523.62 1282.32,523.70 1282.39,526.20 1283.70,528.02 1282.39,529.84 1282.32,532.33 1280.40,532.41 1279.00,534.12 1277.60,532.41 1275.68,532.33 1275.61,529.84 1274.30,528.02 1275.61,526.20 1275.68,523.70 1277.60,523.62" fill="#000000" stroke="#000000" stroke-width="0.9" stroke-linejoin="round"/></g><polyline points="764.4,486.8 790.1,365.0 815.9,434.2 841.6,480.4 867.3,419.5 893.0,410.2 918.8,401.3 944.5,484.3 970.2,442.6 996.0,472.5 1021.7,214.3 1047.4,423.9 1073.2,444.5 1098.9,429.3 1124.6,449.0 1150.3,505.9 1176.1,471.1 1201.8,495.6 1227.5,451.9 1253.3,476.5 1279.0,520.2" fill="none" stroke="#0000ff" stroke-width="2.4" stroke-dasharray="10 9"/><g><polygon points="764.40,480.67 765.80,482.38 767.72,482.46 767.79,484.95 769.10,486.77 767.79,488.59 767.72,491.09 765.80,491.17 764.40,492.87 763.00,491.17 761.08,491.09 761.01,488.59 759.70,486.77 761.01,484.95 761.08,482.46 763.00,482.38" fill="#0000ff" stroke="#0000ff" stroke-width="0.9" stroke-linejoin="round"/><polygon points="790.13,358.90 791.53,360.61 793.45,360.69 793.52,363.18 794.83,365.00 793.52,366.83 793.45,369.32 791.53,369.40 790.13,371.11 788.73,369.40 786.81,369.32 786.74,366.83 785.43,365.00 786.74,363.18 786.81,360.69 788.73,360.61" fill="#0000ff" stroke="#0000ff" stroke-width="0.9" stroke-linejoin="round"/><polygon points="815.86,428.14 817.26,429.84 819.18,429.92 819.25,432.42 820.56,434.24 819.25,436.06 819.18,438.55 817.26,438.63 815.86,440.34 814.46,438.63 812.54,438.55 812.47,436.06 811.16,434.24 812.47,432.42 812.54,429.92 814.46,429.84" fill="#0000ff" stroke="#0000ff" stroke-width="0.9" stroke-linejoin="round"/><polygon points="841.59,474.29 842.99,475.99 844.91,476.08 844.98,478.57 846.29,480.39 844.98,482.21 844.91,484.70 842.99,484.79 841.59,486.49 840.19,484.79 838.27,484.70 838.20,482.21 836.89,480.39 838.20,478.57 838.27,476.08 840.19,475.99" fill="#0000ff" stroke="#0000ff" stroke-width="0.9" stroke-linejoin="round"/><polygon points="867.32,413.41 868.72,415.11 870.64,415.19 870.71,417.69 872.02,419.51 870.71,421.33 870.64,423.82 868.72,423.90 867.32,425.61 865.92,423.90 864.00,423.82 863.93,421.33 862.62,419.51 863.93,417.69 864.00,415.19 865.92,415.11" fill="#0000ff" stroke="#0000ff" stroke-width="0.9" stroke-linejoin="round"/><polygon points="893.05,404.08 894.45,405.78 896.37,405.86 896.44,408.36 897.75,410.18 896.44,412.00 896.37,414.49 894.45,414.57 893.05,416.28 891.65,414.57 889.73,414.49 889.66,412.00 888.35,410.18 889.66,408.36 889.73,405.86 891.65,405.78" fill="#0000ff" stroke="#0000ff" stroke-width="0.9" stroke-linejoin="round"/><polygon points="918.78,395.24 920.18,396.94 922.10,397.03 922.17,399.52 923.48,401.34 922.17,403.16 922.10,405.65 920.18,405.73 918.78,407.44 917.38,405.73 915.46,405.65 915.39,403.16 914.08,401.34 915.39,399.52 915.46,397.03 917.38,396.94" fill="#0000ff" stroke="#0000ff" stroke-width="0.9" stroke-linejoin="round"/><polygon points="944.51,478.22 945.91,479.92 947.83,480.00 947.90,482.50 949.21,484.32 947.90,486.14 947.83,488.63 945.91,488.71 944.51,490.42 943.11,488.71 941.19,488.63 941.12,486.14 939.81,484.32 941.12,482.50 941.19,480.00 943.11,479.92" fill="#0000ff" stroke="#0000ff" stroke-width="0.9" stroke-linejoin="round"/><polygon points="970.24,436.48 971.64,438.19 973.56,438.27 973.63,440.76 974.94,442.58 973.63,444.40 973.56,446.90 971.64,446.98 970.24,448.68 968.84,446.98 966.92,446.90 966.85,444.40 965.54,442.58 966.85,440.76 966.92,438.27 968.84,438.19" fill="#0000ff" stroke="#0000ff" stroke-width="0.9" stroke-linejoin="round"/><polygon points="995.97,466.43 997.37,468.14 999.29,468.22 999.36,470.71 1000.67,472.53 999.36,474.35 999.29,476.85 997.37,476.93 995.97,478.63 994.57,476.93 992.65,476.85 992.58,474.35 991.27,472.53 992.58,470.71 992.65,468.22 994.57,468.14" fill="#0000ff" stroke="#0000ff" stroke-width="0.9" stroke-linejoin="round"/><polygon points="1021.70,208.17 1023.10,209.87 1025.02,209.95 1025.09,212.45 1026.40,214.27 1025.09,216.09 1025.02,218.58 1023.10,218.66 1021.70,220.37 1020.30,218.66 1018.38,218.58 1018.31,216.09 1017.00,214.27 1018.31,212.45 1018.38,209.95 1020.30,209.87" fill="#0000ff" stroke="#0000ff" stroke-width="0.9" stroke-linejoin="round"/><polygon points="1047.43,417.82 1048.83,419.53 1050.75,419.61 1050.82,422.10 1052.13,423.92 1050.82,425.75 1050.75,428.24 1048.83,428.32 1047.43,430.02 1046.03,428.32 1044.11,428.24 1044.04,425.75 1042.73,423.92 1044.04,422.10 1044.11,419.61 1046.03,419.53" fill="#0000ff" stroke="#0000ff" stroke-width="0.9" stroke-linejoin="round"/><polygon points="1073.16,438.45 1074.56,440.15 1076.48,440.23 1076.55,442.73 1077.86,444.55 1076.55,446.37 1076.48,448.86 1074.56,448.94 1073.16,450.65 1071.76,448.94 1069.84,448.86 1069.77,446.37 1068.46,444.55 1069.77,442.73 1069.84,440.23 1071.76,440.15" fill="#0000ff" stroke="#0000ff" stroke-width="0.9" stroke-linejoin="round"/><polygon points="1098.89,423.23 1100.29,424.93 1102.21,425.01 1102.28,427.51 1103.59,429.33 1102.28,431.15 1102.21,433.64 1100.29,433.72 1098.89,435.43 1097.49,433.72 1095.57,433.64 1095.50,431.15 1094.19,429.33 1095.50,427.51 1095.57,425.01 1097.49,424.93" fill="#0000ff" stroke="#0000ff" stroke-width="0.9" stroke-linejoin="round"/><polygon points="1124.62,442.87 1126.02,444.57 1127.94,444.65 1128.01,447.15 1129.32,448.97 1128.01,450.79 1127.94,453.28 1126.02,453.36 1124.62,455.07 1123.22,453.36 1121.30,453.28 1121.23,450.79 1119.92,448.97 1121.23,447.15 1121.30,444.65 1123.22,444.57" fill="#0000ff" stroke="#0000ff" stroke-width="0.9" stroke-linejoin="round"/><polygon points="1150.35,499.82 1151.75,501.53 1153.67,501.61 1153.74,504.10 1155.05,505.92 1153.74,507.74 1153.67,510.24 1151.75,510.32 1150.35,512.02 1148.95,510.32 1147.03,510.24 1146.96,507.74 1145.65,505.92 1146.96,504.10 1147.03,501.61 1148.95,501.53" fill="#0000ff" stroke="#0000ff" stroke-width="0.9" stroke-linejoin="round"/><polygon points="1176.08,464.96 1177.48,466.67 1179.40,466.75 1179.47,469.24 1180.78,471.06 1179.47,472.88 1179.40,475.37 1177.48,475.46 1176.08,477.16 1174.68,475.46 1172.76,475.37 1172.69,472.88 1171.38,471.06 1172.69,469.24 1172.76,466.75 1174.68,466.67" fill="#0000ff" stroke="#0000ff" stroke-width="0.9" stroke-linejoin="round"/><polygon points="1201.81,489.51 1203.21,491.22 1205.13,491.30 1205.20,493.79 1206.51,495.61 1205.20,497.43 1205.13,499.92 1203.21,500.01 1201.81,501.71 1200.41,500.01 1198.49,499.92 1198.42,497.43 1197.11,495.61 1198.42,493.79 1198.49,491.30 1200.41,491.22" fill="#0000ff" stroke="#0000ff" stroke-width="0.9" stroke-linejoin="round"/><polygon points="1227.54,445.81 1228.94,447.52 1230.86,447.60 1230.93,450.09 1232.24,451.91 1230.93,453.73 1230.86,456.23 1228.94,456.31 1227.54,458.01 1226.14,456.31 1224.22,456.23 1224.15,453.73 1222.84,451.91 1224.15,450.09 1224.22,447.60 1226.14,447.52" fill="#0000ff" stroke="#0000ff" stroke-width="0.9" stroke-linejoin="round"/><polygon points="1253.27,470.36 1254.67,472.07 1256.59,472.15 1256.66,474.64 1257.97,476.46 1256.66,478.28 1256.59,480.78 1254.67,480.86 1253.27,482.56 1251.87,480.86 1249.95,480.78 1249.88,478.28 1248.57,476.46 1249.88,474.64 1249.95,472.15 1251.87,472.07" fill="#0000ff" stroke="#0000ff" stroke-width="0.9" stroke-linejoin="round"/><polygon points="1279.00,514.06 1280.40,515.77 1282.32,515.85 1282.39,518.34 1283.70,520.16 1282.39,521.98 1282.32,524.47 1280.40,524.56 1279.00,526.26 1277.60,524.56 1275.68,524.47 1275.61,521.98 1274.30,520.16 1275.61,518.34 1275.68,515.85 1277.60,515.77" fill="#0000ff" stroke="#0000ff" stroke-width="0.9" stroke-linejoin="round"/></g><text x="204.8" y="177.6" font-size="32.6" fill="#000" text-anchor="start" font-family="Liberation Serif" font-weight="bold">(7, 0.67)</text><text x="358.8" y="197.3" font-size="32.6" fill="#ff0000" text-anchor="start" font-family="Liberation Serif" font-weight="bold">(13, 0.63)</text><text x="831.8" y="195.6" font-size="32.6" fill="#000" text-anchor="start" font-family="Liberation Serif" font-weight="bold">(7, 0.68)</text><text x="961.8" y="181.8" font-size="32.6" fill="#0000ff" text-anchor="start" font-family="Liberation Serif" font-weight="bold">(10, 0.65)</text><text x="1076.8" y="207.6" font-size="32.6" fill="#ff0000" text-anchor="start" font-family="Liberation Serif" font-weight="bold">(13, 0.65)</text><path d="M246.2 42.7H269.2" stroke="#ff0000" stroke-width="2.2"/><ellipse cx="258.5" cy="43.0" rx="3.4" ry="4.8" fill="#ff0000"/><text x="411.3" y="50.3" font-size="23.3" fill="#000" text-anchor="end" font-family="Liberation Serif" font-weight="bold">DAE(13Hz)</text><path d="M423.3 42.7H446.3" stroke="#000" stroke-width="2.2"/><ellipse cx="435.6" cy="43.0" rx="3.4" ry="4.8" fill="#000"/><text x="574.3" y="50.3" font-size="23.3" fill="#000" text-anchor="end" font-family="Liberation Serif" font-weight="bold">DAE(7Hz)</text><path d="M246.2 75.0H271.7" stroke="#ff0000" stroke-width="5"/><text x="411.3" y="81.0" font-size="23.3" fill="#000" text-anchor="end" font-family="Liberation Serif" font-weight="bold">aDAF(13Hz)</text><path d="M423.3 75.0H448.8" stroke="#000" stroke-width="5"/><text x="574.3" y="81.0" font-size="23.3" fill="#000" text-anchor="end" font-family="Liberation Serif" font-weight="bold">aDAF(7Hz)</text><path d="M784.6 37.2H807.6" stroke="#ff0000" stroke-width="2.2"/><ellipse cx="796.9" cy="37.5" rx="3.4" ry="4.8" fill="#ff0000"/><text x="948.6" y="45.6" font-size="23.3" fill="#000" text-anchor="end" font-family="Liberation Serif" font-weight="bold">DAE(13Hz)</text><path d="M961.4 37.2H984.4" stroke="#000" stroke-width="2.2"/><ellipse cx="973.7" cy="37.5" rx="3.4" ry="4.8" fill="#000"/><text x="1111.6" y="45.6" font-size="23.3" fill="#000" text-anchor="end" font-family="Liberation Serif" font-weight="bold">DAE(7Hz)</text><path d="M1121.4 37.2H1144.4" stroke="#0000ff" stroke-width="2.2"/><ellipse cx="1133.7" cy="37.5" rx="3.4" ry="4.8" fill="#0000ff"/><text x="1283.0" y="45.6" font-size="23.3" fill="#000" text-anchor="end" font-family="Liberation Serif" font-weight="bold">DAE(10Hz)</text><path d="M784.6 69.6H810.1" stroke="#ff0000" stroke-width="5"/><text x="948.6" y="75.5" font-size="23.3" fill="#000" text-anchor="end" font-family="Liberation Serif" font-weight="bold">aDAF(13Hz)</text><path d="M961.4 69.6H986.9" stroke="#000" stroke-width="5"/><text x="1111.6" y="75.5" font-size="23.3" fill="#000" text-anchor="end" font-family="Liberation Serif" font-weight="bold">aDAF(7Hz)</text><path d="M1121.4 69.6H1146.9" stroke="#0000ff" stroke-width="5"/><text x="1283.0" y="75.5" font-size="23.3" fill="#000" text-anchor="end" font-family="Liberation Serif" font-weight="bold">aDAF(10Hz)</text><text x="12.3" y="31.8" style="font-family:&quot;Liberation Sans&quot;;font-weight:bold" font-size="43" fill="#000">A</text><text x="671.0" y="31.8" style="font-family:&quot;Liberation Sans&quot;;font-weight:bold" font-size="43" fill="#000">B</text></svg></body></html>
